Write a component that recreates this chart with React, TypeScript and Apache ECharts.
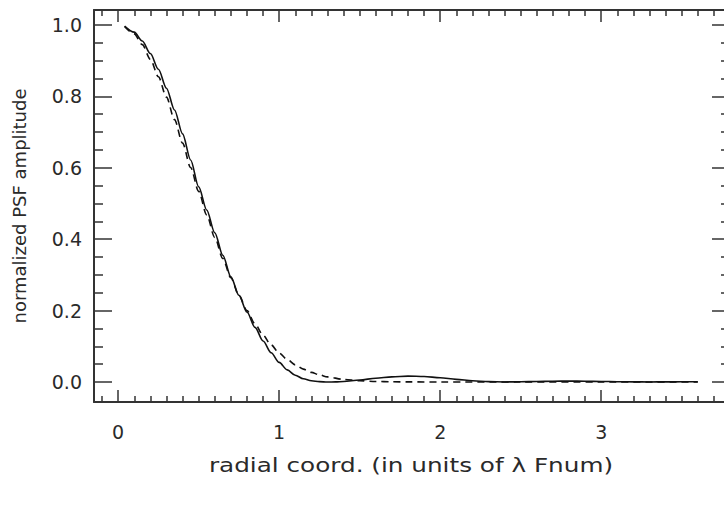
import React, { useEffect, useRef } from "react";
import * as echarts from "echarts";

// ---- data ----
const solidX = [0.04, 0.1, 0.15, 0.2, 0.25, 0.3, 0.35, 0.4, 0.45, 0.5, 0.55, 0.6, 0.65, 0.7, 0.75, 0.8, 0.85, 0.9, 0.95, 1.0, 1.05, 1.1, 1.15, 1.2, 1.25, 1.3, 1.35, 1.4, 1.5, 1.6, 1.7, 1.8, 1.9, 2.0, 2.1, 2.2, 2.3, 2.4, 2.5, 2.6, 2.7, 2.8, 2.9, 3.0, 3.1, 3.2, 3.3, 3.4, 3.5, 3.6];
const solidY = [0.997, 0.98, 0.955, 0.92, 0.876, 0.823, 0.762, 0.695, 0.622, 0.547, 0.482, 0.418, 0.355, 0.295, 0.243, 0.196, 0.153, 0.115, 0.082, 0.055, 0.034, 0.019, 0.009, 0.0035, 0.001, 0.0, 0.0003, 0.0015, 0.0055, 0.0105, 0.0145, 0.0165, 0.0155, 0.012, 0.0075, 0.0035, 0.001, 0.0002, 0.0006, 0.0015, 0.0022, 0.0025, 0.0022, 0.0016, 0.0009, 0.0004, 0.0002, 0.0003, 0.0006, 0.0007];

const dashedX = [0.04, 0.1, 0.15, 0.2, 0.25, 0.3, 0.35, 0.4, 0.45, 0.5, 0.55, 0.6, 0.65, 0.7, 0.75, 0.8, 0.85, 0.9, 0.95, 1.0, 1.05, 1.1, 1.15, 1.2, 1.25, 1.3, 1.4, 1.5, 1.6, 1.7, 1.8, 2.0, 2.5, 3.0, 3.6];
const dashedY = [0.996, 0.975, 0.945, 0.904, 0.855, 0.798, 0.735, 0.669, 0.601, 0.534, 0.468, 0.405, 0.346, 0.292, 0.243, 0.2, 0.163, 0.131, 0.104, 0.081, 0.063, 0.048, 0.036, 0.027, 0.02, 0.0143, 0.0073, 0.0035, 0.0016, 0.0007, 0.0003, 0.0, 0.0, 0.0, 0.0];

const xMajorTicks = [0, 1, 2, 3];
const xMinorTicks = [-0.1, 0.1, 0.2, 0.3, 0.4, 0.5, 0.6, 0.7, 0.8, 0.9, 1.1, 1.2, 1.3, 1.4, 1.5, 1.6, 1.7, 1.8, 1.9, 2.1, 2.2, 2.3, 2.4, 2.5, 2.6, 2.7, 2.8, 2.9, 3.1, 3.2, 3.3, 3.4, 3.5, 3.6, 3.7];
const yMajorTicks = [0, 0.2, 0.4, 0.6, 0.8, 1.0];
const yMinorTicks = [0.05, 0.1, 0.15, 0.25, 0.3, 0.35, 0.45, 0.5, 0.55, 0.65, 0.7, 0.75, 0.85, 0.9, 0.95];

const xTitle = "radial coord. (in units of λ Fnum)";
const yTitle = "normalized PSF amplitude";

const X_MIN = -0.15;
const X_MAX = 3.8;
const Y_MIN = -0.056;
const Y_MAX = 1.042;

const FONT = "DejaVu Sans";
const AXIS_COLOR = "#333";
const TEXT_COLOR = "#2a2a2a";

function xAxisDef(position: "top" | "bottom", ticks: number[], len: number, showLine: boolean, showLabels: boolean) {
  return {
    type: "value",
    position,
    min: X_MIN,
    max: X_MAX,
    axisLine: { show: showLine, onZero: false, lineStyle: { color: AXIS_COLOR, width: 2 } },
    axisTick: { show: true, inside: true, length: len, customValues: ticks, lineStyle: { color: AXIS_COLOR, width: 1.5 } },
    axisLabel: {
      show: showLabels,
      customValues: ticks,
      margin: 20,
      fontFamily: FONT,
      fontSize: 19,
      color: TEXT_COLOR,
      formatter: (v: number) => String(Math.round(v)),
    },
    splitLine: { show: false },
  };
}

function yAxisDef(position: "left" | "right", ticks: number[], len: number, showLine: boolean, showLabels: boolean, name?: string) {
  return {
    type: "value",
    position,
    min: Y_MIN,
    max: Y_MAX,
    name: name ?? "",
    nameLocation: "middle",
    nameGap: 66,
    nameTextStyle: { fontFamily: FONT, fontSize: 18, color: TEXT_COLOR },
    axisLine: { show: showLine, onZero: false, lineStyle: { color: AXIS_COLOR, width: 2 } },
    axisTick: { show: true, inside: true, length: len, customValues: ticks, lineStyle: { color: AXIS_COLOR, width: 1.5 } },
    axisLabel: {
      show: showLabels,
      customValues: ticks,
      margin: 12,
      fontFamily: FONT,
      fontSize: 19,
      color: TEXT_COLOR,
      formatter: (v: number) => v.toFixed(1),
    },
    splitLine: { show: false },
  };
}

export default function App() {
  const ref = useRef<HTMLDivElement>(null);
  useEffect(() => {
    if (!ref.current) return;
    const chart = echarts.init(ref.current, null, { renderer: "svg" });
    const solid = solidX.map((x, i) => [x, solidY[i]]);
    const dashed = dashedX.map((x, i) => [x, dashedY[i]]);
    chart.setOption({
      animation: false,
      backgroundColor: "#ffffff",
      grid: { left: 94, right: -6, top: 10, bottom: 103, containLabel: false, outerBoundsMode: "none" },
      graphic: [
        {
          type: "text",
          x: 411,
          y: 466,
          scaleX: 1.3,
          style: {
            text: xTitle,
            fontFamily: FONT,
            fontSize: 19,
            fill: TEXT_COLOR,
            textAlign: "center",
            textVerticalAlign: "middle",
          },
        },
      ],
      xAxis: [
        xAxisDef("bottom", xMajorTicks, 12, true, true),
        xAxisDef("bottom", xMinorTicks, 6, false, false),
        xAxisDef("top", xMajorTicks, 12, true, false),
        xAxisDef("top", xMinorTicks, 6, false, false),
      ],
      yAxis: [
        yAxisDef("left", yMajorTicks, 18, true, true, yTitle),
        yAxisDef("left", yMinorTicks, 9, false, false),
        yAxisDef("right", yMajorTicks, 18, true, false),
        yAxisDef("right", yMinorTicks, 9, false, false),
      ],
      series: [
        {
          type: "line",
          data: solid,
          xAxisIndex: 0,
          yAxisIndex: 0,
          showSymbol: false,
          smooth: 0.3,
          smoothMonotone: "x",
          lineStyle: { color: "#111", width: 1.6, type: "solid" },
        },
        {
          type: "line",
          data: dashed,
          xAxisIndex: 0,
          yAxisIndex: 0,
          showSymbol: false,
          smooth: 0.3,
          smoothMonotone: "x",
          lineStyle: { color: "#111", width: 1.6, type: [7, 5] },
        },
      ],
    });
    return () => chart.dispose();
  }, []);
  return (
    <div
      ref={ref}
      style={{ position: "absolute", left: 0, top: 0, width: 724, height: 505, background: "#fff" }}
    />
  );
}
